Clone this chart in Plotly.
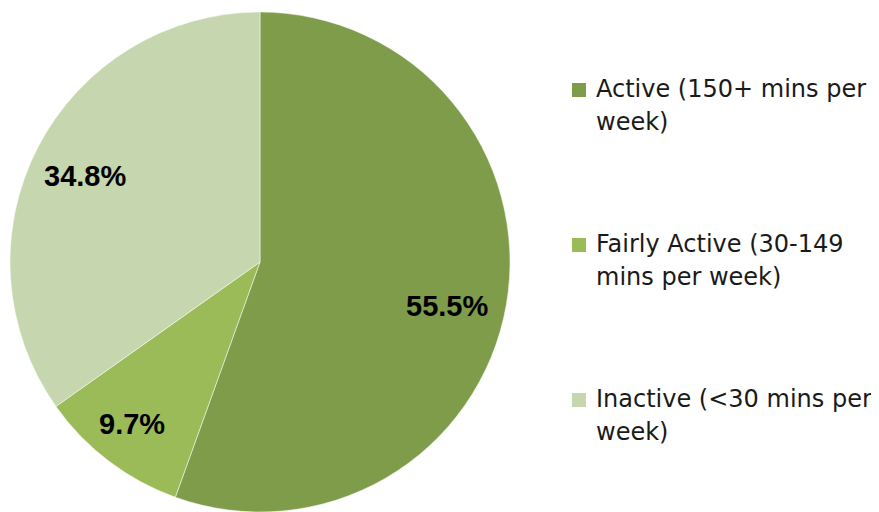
import plotly.graph_objects as go

categories = ["Active (150+ mins per<br>week)",
              "Fairly Active (30-149<br>mins per week)",
              "Inactive (<30 mins per<br>week)"]
values = [55.5, 9.7, 34.8]
colors = ["#7f9c4a", "#9bbb59", "#c6d6ae"]

# page body has an 8px margin; figure sized so the window is filled
OFF = 8
WIN_W, WIN_H = 879, 512
W, H = WIN_W - OFF, WIN_H - OFF


def px(x):
    return (x - OFF) / W


def py(y):
    return 1 - (y - OFF) / H


fig = go.Figure()
fig.add_trace(go.Pie(
    labels=categories,
    values=values,
    sort=False,
    direction="clockwise",
    rotation=0,
    marker=dict(colors=colors, line=dict(color="white", width=0.5)),
    textposition="none",
    domain=dict(x=[px(10), px(510)], y=[py(512), py(12)]),
    showlegend=False,
    hoverinfo="label+percent",
))

# data labels (positions as in the reference, best-fit style)
label_pos = [(447, 306), (132, 424), (85, 176)]
for v, (lx, ly) in zip(values, label_pos):
    fig.add_annotation(xref="paper", yref="paper", x=px(lx), y=py(ly),
                       xanchor="center", yanchor="middle",
                       text=f"<b>{v:.1f}%</b>", showarrow=False,
                       font=dict(family="Liberation Sans", size=29, color="black"))

# legend drawn as shapes + annotations
leg_x_sq = 572
leg_centers = [90, 245, 400]
line_gap = 33
for cat, col, cy in zip(categories, colors, leg_centers):
    fig.add_shape(type="rect", xref="paper", yref="paper",
                  x0=px(leg_x_sq), x1=px(leg_x_sq + 14),
                  y0=py(cy + 7), y1=py(cy - 7),
                  fillcolor=col, line=dict(width=0))
    for i, line in enumerate(cat.split("<br>")):
        fig.add_annotation(xref="paper", yref="paper",
                           x=px(594), y=py(cy - 17 + i * line_gap),
                           xanchor="left", yanchor="top", align="left",
                           text=line, showarrow=False,
                           font=dict(family="DejaVu Sans", size=24, color="#1a1a1a"))

fig.update_layout(
    width=W, height=H,
    margin=dict(l=0, r=0, t=0, b=0),
    paper_bgcolor="white",
    plot_bgcolor="white",
)

fig.write_html("out.html")
